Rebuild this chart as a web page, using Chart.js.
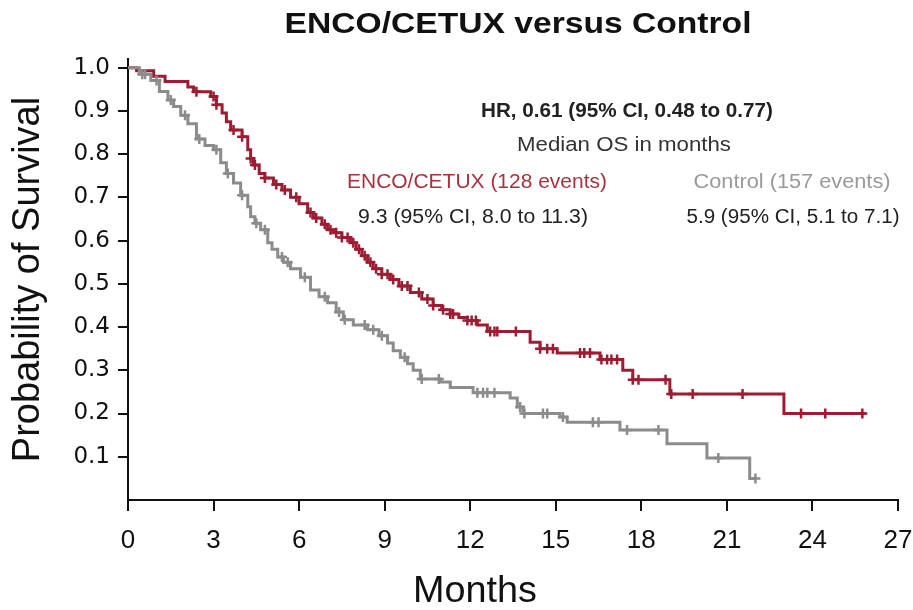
<!DOCTYPE html>
<html>
<head>
<meta charset="utf-8">
<script src="https://cdn.jsdelivr.net/npm/chart.js@4"></script>
<style>
  body { margin: 0; background: #fff; }
  #wrap { width: 913px; height: 610px; }
</style>
</head>
<body>
<div id="wrap"><canvas id="kmChart" width="913" height="610"></canvas></div>
<script>
// Kaplan-Meier OS: ENCO/CETUX vs Control (months, survival probability)
const encoTimes = [0, 0.3, 0.9, 1.3, 2.1, 2.3, 2.9, 3.1, 3.3, 3.45, 3.6, 4.0, 4.2, 4.3, 4.4, 4.6, 4.8, 5.1, 5.4, 5.7, 6.0, 6.3, 6.5, 6.8, 7.0, 7.2, 7.5, 7.8, 8.0, 8.2, 8.4, 8.6, 8.9, 9.2, 9.5, 9.9, 10.3, 10.7, 11.0, 11.3, 11.6, 11.9, 12.25, 12.6, 14.1, 14.45, 15.05, 16.55, 17.35, 17.7, 19.0, 23.0, 25.85];
const encoSurv = [1.0, 0.993, 0.98, 0.968, 0.955, 0.944, 0.933, 0.914, 0.895, 0.875, 0.856, 0.84, 0.81, 0.79, 0.775, 0.755, 0.745, 0.73, 0.717, 0.70, 0.685, 0.665, 0.652, 0.638, 0.625, 0.618, 0.607, 0.595, 0.58, 0.565, 0.55, 0.535, 0.522, 0.51, 0.495, 0.48, 0.465, 0.45, 0.44, 0.43, 0.422, 0.415, 0.405, 0.39, 0.365, 0.35, 0.34, 0.325, 0.30, 0.278, 0.245, 0.20, 0.20];
const encoCensor = [2.4, 3.0, 3.1, 3.7, 4.0, 4.3, 4.45, 4.8, 5.2, 5.5, 5.9, 6.4, 6.6, 6.9, 7.1, 7.3, 7.5, 7.7, 7.9, 8.1, 8.3, 8.5, 8.7, 8.9, 9.1, 9.3, 9.6, 9.8, 10.2, 10.5, 10.7, 11.05, 11.3, 11.4, 11.9, 12.05, 12.2, 12.7, 12.85, 12.95, 13.6, 14.45, 14.7, 14.9, 15.85, 16.0, 16.2, 16.6, 16.8, 16.95, 17.15, 17.7, 17.9, 18.85, 19.05, 19.8, 21.55, 23.6, 24.45, 25.75];

const ctrlTimes = [0, 0.4, 0.8, 1.1, 1.4, 1.6, 1.85, 2.1, 2.4, 2.7, 3.0, 3.25, 3.45, 3.7, 3.95, 4.2, 4.3, 4.45, 4.65, 4.9, 5.05, 5.25, 5.45, 5.7, 6.05, 6.4, 6.7, 7.0, 7.3, 7.55, 7.9, 8.4, 8.8, 9.1, 9.3, 9.55, 9.8, 10.0, 10.25, 10.95, 11.3, 12.1, 13.4, 13.65, 13.85, 15.15, 15.4, 17.25, 18.9, 20.3, 21.8, 22.05];
const ctrlSurv = [1.0, 0.985, 0.97, 0.945, 0.925, 0.91, 0.89, 0.87, 0.835, 0.82, 0.81, 0.78, 0.755, 0.733, 0.705, 0.678, 0.655, 0.64, 0.625, 0.595, 0.58, 0.562, 0.55, 0.535, 0.515, 0.486, 0.47, 0.456, 0.435, 0.417, 0.405, 0.394, 0.38, 0.363, 0.345, 0.33, 0.315, 0.30, 0.28, 0.273, 0.26, 0.248, 0.236, 0.215, 0.20, 0.192, 0.18, 0.162, 0.13, 0.097, 0.05, 0.05];
const ctrlCensor = [0.5, 0.6, 1.0, 1.5, 2.0, 2.5, 3.1, 3.5, 4.0, 4.5, 4.8, 5.4, 5.6, 6.2, 6.9, 7.4, 7.6, 8.3, 8.6, 8.9, 9.7, 10.3, 10.9, 12.25, 12.45, 12.6, 12.85, 13.75, 13.9, 14.55, 14.7, 15.25, 16.3, 16.5, 17.5, 18.6, 20.7, 22.0];

const xTicks = [0, 3, 6, 9, 12, 15, 18, 21, 24, 27];
const yTicks = [0.1, 0.2, 0.3, 0.4, 0.5, 0.6, 0.7, 0.8, 0.9, 1.0];

const RED = '#9d1c31';
const GRAY = '#8c8c8c';

function survAt(times, surv, t) {
    let s = surv[0];
    for (let i = 0; i < times.length; i++) {
        if (times[i] <= t) s = surv[i];
    }
    return s;
}

const stepPts = (times, surv) => times.map((t, i) => ({ x: t, y: surv[i] }));
const censorPts = (cens, times, surv) => cens.map(t => ({ x: t, y: survAt(times, surv, t) }));

// texte au-dessus des courbes, étiré à la largeur voulue
const notes = [
    { text: 'ENCO/CETUX versus Control', cx: 518, y: 33, font: 'bold 29px "Liberation Sans"', color: '#111', w: 467 },
    { text: 'HR, 0.61 (95% CI, 0.48 to 0.77)', cx: 627, y: 117, font: 'bold 20px "Liberation Sans"', color: '#222', w: 292 },
    { text: 'Median OS in months', cx: 624, y: 151, font: '20px "Liberation Sans"', color: '#333', w: 214 },
    { text: 'ENCO/CETUX (128 events)', cx: 477, y: 188, font: '19.5px "Liberation Sans"', color: '#a8323f', w: 260 },
    { text: '9.3 (95% CI, 8.0 to 11.3)', cx: 473, y: 223, font: '19.5px "Liberation Sans"', color: '#222', w: 230 },
    { text: 'Control (157 events)', cx: 792, y: 188, font: '19.5px "Liberation Sans"', color: '#999', w: 197 },
    { text: '5.9 (95% CI, 5.1 to 7.1)', cx: 793, y: 223, font: '19.5px "Liberation Sans"', color: '#222', w: 213 },
    { text: 'Months', cx: 475, y: 602, font: '37px "Liberation Sans"', color: '#111', w: 124 }
];

const notesPlugin = {
    id: 'notes',
    afterDraw(chart) {
        const ctx = chart.ctx;
        notes.forEach(n => {
            ctx.save();
            ctx.font = n.font;
            const sx = n.w / ctx.measureText(n.text).width;
            ctx.fillStyle = n.color;
            ctx.textAlign = 'left';
            ctx.textBaseline = 'alphabetic';
            ctx.translate(n.cx - n.w / 2, n.y);
            ctx.scale(sx, 1);
            ctx.fillText(n.text, 0, 0);
            ctx.restore();
        });
    }
};

const ctx = document.getElementById('kmChart').getContext('2d');
new Chart(ctx, {
    type: 'scatter',
    data: {
        datasets: [
            {
                label: 'Control',
                data: stepPts(ctrlTimes, ctrlSurv),
                showLine: true,
                stepped: 'before',
                borderColor: GRAY,
                borderWidth: 3,
                pointRadius: 0,
                order: 1
            },
            {
                label: 'Control censored',
                data: censorPts(ctrlCensor, ctrlTimes, ctrlSurv),
                pointStyle: 'cross',
                pointRadius: 5,
                borderColor: GRAY,
                borderWidth: 2.5,
                order: 1
            },
            {
                label: 'ENCO/CETUX',
                data: stepPts(encoTimes, encoSurv),
                showLine: true,
                stepped: 'before',
                borderColor: RED,
                borderWidth: 3,
                pointRadius: 0,
                order: 2
            },
            {
                label: 'ENCO/CETUX censored',
                data: censorPts(encoCensor, encoTimes, encoSurv),
                pointStyle: 'cross',
                pointRadius: 5,
                borderColor: RED,
                borderWidth: 2.5,
                order: 2
            }
        ]
    },
    options: {
        responsive: false,
        animation: false,
        layout: { padding: { top: 59, right: 0, left: 0, bottom: 0 } },
        plugins: {
            legend: { display: false },
            tooltip: { enabled: false }
        },
        scales: {
            x: {
                type: 'linear',
                min: 0,
                max: 27,
                afterFit(scale) {
                    scale.height = 110;
                    scale.paddingLeft = 0;
                    scale.paddingRight = 15;
                },
                afterBuildTicks(scale) { scale.ticks = xTicks.map(v => ({ value: v })); },
                border: { display: true, color: '#111', width: 2 },
                grid: { drawOnChartArea: false, drawTicks: true, tickLength: 11, color: '#111', lineWidth: 2 },
                ticks: {
                    padding: 14,
                    color: '#111',
                    font: { family: '"Liberation Sans"', size: 26 },
                    callback: v => String(v)
                },
                // "Months" est dessiné par le plugin (décalé à gauche comme dans la figure)
                title: { display: false }
            },
            y: {
                type: 'linear',
                min: 0,
                max: 1.02,
                afterFit(scale) { scale.width = 128; },
                afterBuildTicks(scale) { scale.ticks = yTicks.map(v => ({ value: v })); },
                border: { display: true, color: '#111', width: 2 },
                grid: { drawOnChartArea: false, drawTicks: true, tickLength: 10, color: '#111', lineWidth: 2 },
                ticks: {
                    padding: 8,
                    color: '#111',
                    font: { family: '"DejaVu Sans"', size: 23 },
                    callback: v => v.toFixed(1)
                },
                title: {
                    display: true,
                    text: 'Probability of Survival',
                    color: '#111',
                    font: { family: '"Liberation Sans"', size: 38 },
                    padding: { top: 6, bottom: 0 }
                }
            }
        }
    },
    plugins: [notesPlugin]
});
</script>
</body>
</html>
